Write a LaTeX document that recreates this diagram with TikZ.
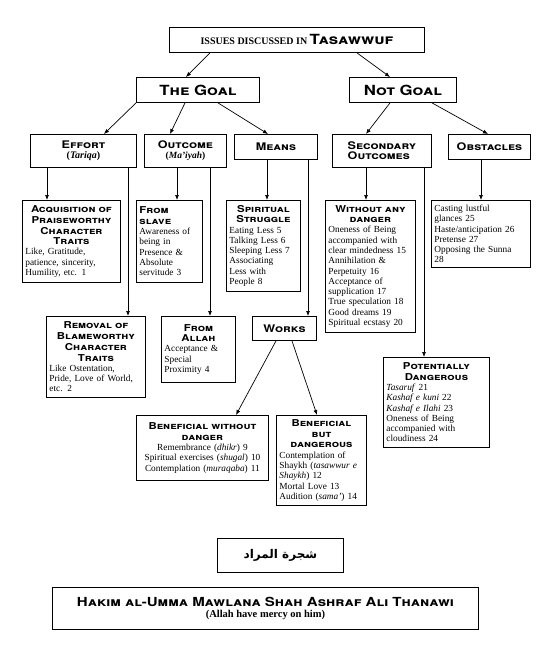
\documentclass[tikz,border=0pt]{standalone}
\usepackage{fontspec}
\usepackage{tikz}
\usetikzlibrary{arrows.meta}
\setmainfont{Liberation Serif}
\newfontfamily\hd[FakeStretch=1.2]{TeX Gyre Heros}
\newfontfamily\arabicfont[Script=Arabic]{DejaVu Sans}
\TeXXeTstate=1
\newcommand{\bighd}[1]{{\hd\bfseries\fontsize{14}{16}\selectfont\textsc{#1}}}
\newcommand{\midhd}[1]{{\hd\bfseries\fontsize{10.5}{12}\selectfont\textsc{#1}}}
\newcommand{\smhd}[1]{{\hd\bfseries\fontsize{9.5}{11}\selectfont\textsc{#1}}}
\newcommand{\hdc}[1]{{\centering\smhd{#1}\par}}

\begin{document}
\begin{tikzpicture}[x=1pt,y=-1pt,
  box/.style={draw,line width=0.9pt,anchor=north west,inner xsep=3pt,inner ysep=2pt,
    align=left,font=\fontsize{9.3}{10.3}\selectfont},
  arr/.style={-{Latex[length=5pt,width=4pt]},line width=0.7pt}]
\useasboundingbox (0,0) rectangle (544,646);

\node[box,align=center,minimum width=255,minimum height=25] (issues) at (169,27)
  {{\bfseries\fontsize{10}{12}\selectfont ISSUES DISCUSSED IN} \bighd{Tasawwuf}};
\node[box,align=center,minimum width=123,minimum height=25] (goal) at (136,77) {\bighd{The Goal}};
\node[box,align=center,minimum width=107,minimum height=25] (notgoal) at (349,77) {\bighd{Not Goal}};

\node[box,align=center,minimum width=106,minimum height=33] (effort) at (30,134)
  {\midhd{Effort}\\ \textbf{\fontsize{10}{12}\selectfont(\textit{Tariqa})}};
\node[box,align=center,minimum width=82,minimum height=33] (outcome) at (144,134)
  {\midhd{Outcome}\\ \textbf{\fontsize{9.5}{12}\selectfont(\textit{Ma'iyah})}};
\node[box,align=center,minimum width=83,minimum height=25] (means) at (234,134) {\midhd{Means}};
\node[box,inner xsep=5pt,minimum width=99,minimum height=33] (secondary) at (332,134)
  {\midhd{Secondary}\\ \midhd{Outcomes}};
\node[box,align=center,minimum width=82,minimum height=25] (obstacles) at (448,134) {\midhd{Obstacles}};

\node[box,text width=92,minimum width=98,minimum height=82] (acq) at (22,200)
  {\hdc{Acquisition of\\Praiseworthy\\Character\\Traits}Like, Gratitude,\\patience, sincerity,\\Humility, etc. 1};
\node[box,text width=60,minimum width=66,minimum height=82] (slave) at (136,200)
  {\smhd{From\\slave}\\Awareness of\\being in\\Presence \&\\Absolute\\servitude 3};
\node[box,text width=68,minimum width=74,minimum height=91] (struggle) at (226,200)
  {\hdc{Spiritual\\Struggle}Eating Less 5\\Talking Less 6\\Sleeping Less 7\\Associating\\Less with\\People 8};
\node[box,text width=84,minimum width=90,minimum height=132] (nodanger) at (325,200)
  {\hdc{Without any\\danger}Oneness of Being\\accompanied with\\clear mindedness 15\\Annihilation \&\\Perpetuity 16\\Acceptance of\\supplication 17\\True speculation 18\\Good dreams 19\\Spiritual ecstasy 20};
\node[box,text width=93,minimum width=99,minimum height=67] (obslist) at (431,200)
  {Casting lustful\\glances 25\\Haste/anticipation 26\\Pretense 27\\Opposing the Sunna\\28};

\node[box,text width=93,minimum width=99,minimum height=81] (removal) at (46,316)
  {\hdc{Removal of\\Blameworthy\\Character\\Traits}Like Ostentation,\\Pride, Love of World,\\etc. 2};
\node[box,text width=68,minimum width=74,minimum height=66] (allah) at (161,316)
  {\hdc{From\\Allah}Acceptance \&\\Special\\Proximity 4};
\node[box,align=center,minimum width=64,minimum height=24] (works) at (252,316) {\midhd{Works}};
\node[box,text width=100,minimum width=106,minimum height=90] (potential) at (383,357)
  {\hdc{Potentially\\Dangerous}\textit{Tasaruf} 21\\\textit{Kashaf e kuni} 22\\\textit{Kashaf e Ilahi} 23\\Oneness of Being\\accompanied with\\cloudiness 24};

\node[box,text width=126,minimum width=132,minimum height=65] (benefit) at (136,415)
  {\hdc{Beneficial without\\danger}{\centering Remembrance (\textit{dhikr}) 9\\Spiritual exercises (\textit{shugal}) 10\\Contemplation (\textit{muraqaba}) 11\par}};
\node[box,text width=84,minimum width=90,minimum height=90] (risky) at (276,415)
  {\hdc{Beneficial\\but\\dangerous}Contemplation of\\Shaykh (\textit{tasawwur e}\\\textit{Shaykh}) 12\\Mortal Love 13\\Audition (\textit{sama'}) 14};

\node[box,align=center,minimum width=126,minimum height=34] (tree) at (217,538)
  {\arabicfont\bfseries\fontsize{12}{14}\selectfont\beginR شجرة المراد\endR};
\node[box,align=center,minimum width=426,minimum height=42] (author) at (52,587)
  {{\hd\bfseries\fontsize{12.5}{14}\selectfont\textsc{Hakim al-Umma Mawlana Shah Ashraf Ali Thanawi}}\\
   {\bfseries\fontsize{10.5}{12}\selectfont (Allah have mercy on him)}};

\draw[arr] ([xshift=41pt]issues.south west) -- ([xshift=50pt]goal.north west);
\draw[arr] ([xshift=188pt]issues.south west) -- ([xshift=41pt]notgoal.north west);
\draw[arr] (goal.south west) -- ([xshift=74pt]effort.north west);
\draw[arr] ([xshift=49pt]goal.south west) -- ([xshift=26pt]outcome.north west);
\draw[arr] ([xshift=82pt]goal.south west) -- ([xshift=34pt]means.north west);
\draw[arr] ([xshift=41pt]notgoal.south west) -- ([xshift=34pt]secondary.north west);
\draw[arr] ([xshift=83pt]notgoal.south west) -- ([xshift=40pt]obstacles.north west);

\draw[arr] ([xshift=17pt]effort.south west) coordinate (e1) -- (e1 |- acq.north);
\draw[arr] ([xshift=98pt]effort.south west) coordinate (e2) -- (e2 |- removal.north);
\draw[arr] ([xshift=33pt]outcome.south west) coordinate (o1) -- (o1 |- slave.north);
\draw[arr] ([xshift=66pt]outcome.south west) coordinate (o2) -- (o2 |- allah.north);
\draw[arr] ([xshift=33pt]means.south west) coordinate (m1) -- (m1 |- struggle.north);
\draw[arr] ([xshift=74pt]means.south west) coordinate (m2) -- (m2 |- works.north);
\draw[arr] ([xshift=34pt]secondary.south west) coordinate (s1) -- (s1 |- nodanger.north);
\draw[arr] ([xshift=92pt]secondary.south west) coordinate (s2) -- (s2 |- potential.north);
\draw[arr] ([xshift=33pt]obstacles.south west) coordinate (b1) -- (b1 |- obslist.north);

\draw[arr] ([xshift=24pt]works.south west) -- ([xshift=100pt]benefit.north west);
\draw[arr] ([xshift=40pt]works.south west) -- ([xshift=41pt]risky.north west);
\end{tikzpicture}
\end{document}
